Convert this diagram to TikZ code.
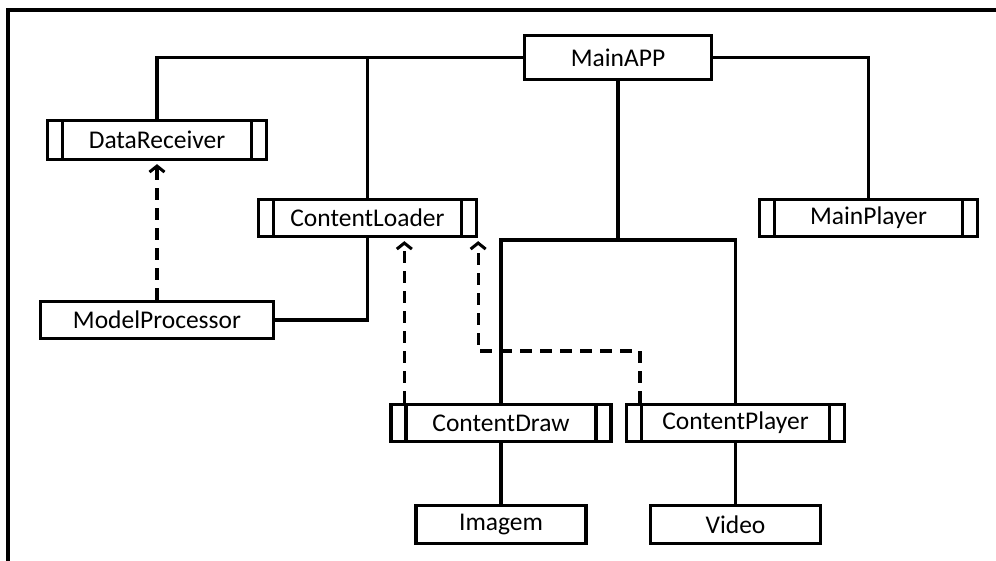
\documentclass[tikz,border=0pt]{standalone}
\usepackage{fontspec}
\setmainfont{Carlito}
\usetikzlibrary{arrows.meta}

\tikzset{
  lw/.style={line width=3.3pt},
  box/.style={draw, lw, inner sep=0pt, minimum height=37pt,
    font=\fontsize{25.5}{29}\selectfont},
  proc/.style={box, path picture={
    \draw[lw] ([xshift=15pt]path picture bounding box.north west)
          -- ([xshift=15pt]path picture bounding box.south west);
    \draw[lw] ([xshift=-15pt]path picture bounding box.north east)
          -- ([xshift=-15pt]path picture bounding box.south east);}},
  link/.style={lw},
  dep/.style={lw, dash pattern=on 12pt off 8pt,
    -{Straight Barb[length=6pt,width=15pt,line width=3pt]}, shorten >=3pt},
  frameline/.style={line width=3.4pt}
}

\begin{document}
\begin{tikzpicture}[x=1pt,y=-1pt]
  \useasboundingbox (0,0) rectangle (996,561);

  % outer frame (top and left edges)
  \draw[frameline] (8,561) -- (8,10) -- (996,10);

  % modules
  \node[box,  minimum width=187pt, minimum height=44pt] (main)  at (618,57.5)  {MainAPP};
  \node[proc, minimum width=219pt, minimum height=39pt] (dr)    at (157,140)   {DataReceiver};
  \node[proc, minimum width=218pt] (cl)    at (367.5,218) {ContentLoader};
  \node[proc, minimum width=218pt] (mp)    at (868.5,218) {MainPlayer};
  \node[box,  minimum width=233pt] (mproc) at (157,320)   {ModelProcessor};
  \node[proc, minimum width=220pt] (cd)    at (501,423)   {ContentDraw};
  \node[proc, minimum width=218pt] (cp)    at (735.5,423) {ContentPlayer};
  \node[box,  minimum width=170pt, minimum height=38pt] (img) at (501,524.5)   {Imagem};
  \node[box,  minimum width=170pt, minimum height=38pt] (vid) at (735.5,524.5) {Video};

  % composition links
  \draw[link] (main.west) -| (dr.north);
  \draw[link] (cl.north) -- (cl.north |- main.west);
  \draw[link] (main.east) -| (mp.north);
  \coordinate (split) at (main.south |- 0,240);
  \draw[link] (main.south) -- (split);
  \draw[link] (cd.north) |- (split) -| (cp.north);
  \draw[link] (mproc.east) -| (cl.south);
  \draw[link] (cd.south) -- (img.north);
  \draw[link] (cp.south) -- (vid.north);

  % dependencies
  \coordinate (cdbar) at ([xshift=15pt]cd.north west);
  \coordinate (cpbar) at ([xshift=15pt]cp.north west);
  \draw[dep] (mproc.north) -- (dr.south);
  \draw[dep] (cdbar) -- (cdbar |- cl.south);
  \draw[dep] (cpbar) -- ++(0,-52) -| (cl.south east);
\end{tikzpicture}
\end{document}
